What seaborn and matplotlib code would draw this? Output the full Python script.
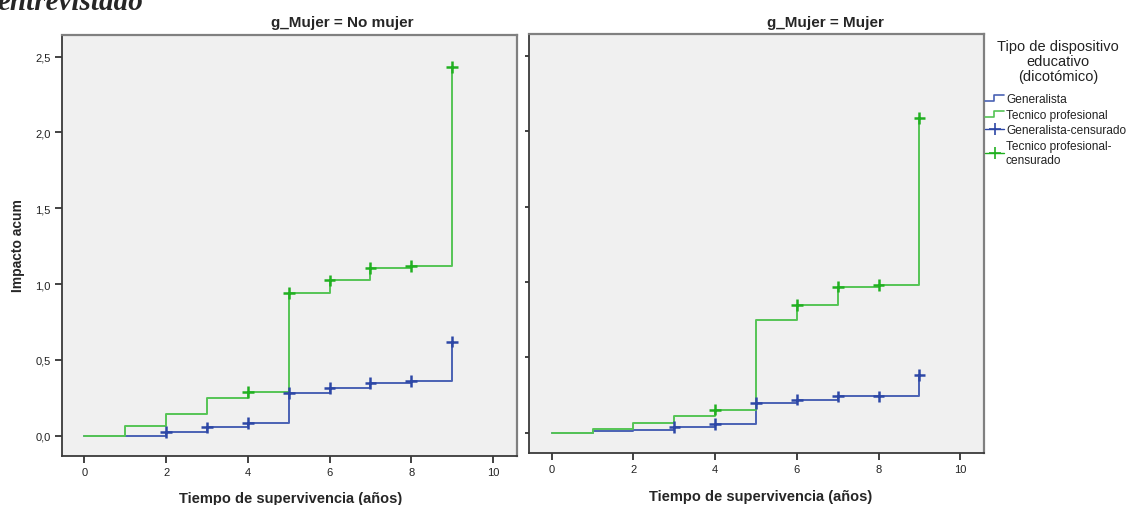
import numpy as np
import pandas as pd
import matplotlib
matplotlib.use("Agg")
import matplotlib.pyplot as plt
import seaborn as sns
from matplotlib.lines import Line2D
from matplotlib.legend_handler import HandlerBase

# ---------------- data ----------------
tiempos = [0, 1, 2, 3, 4, 5, 6, 7, 8, 9]
paneles = ["No mujer", "Mujer"]
grupos = ["Generalista", "Tecnico profesional"]

# cumulative hazard, g_Mujer = No mujer
nomujer_generalista = [0.0, 0.0, 0.024, 0.055, 0.085, 0.28, 0.314, 0.347, 0.36, 0.62]
nomujer_tecnico = [0.0, 0.061, 0.145, 0.248, 0.29, 0.94, 1.024, 1.105, 1.12, 2.43]
# cumulative hazard, g_Mujer = Mujer
mujer_generalista = [0.0, 0.009, 0.015, 0.037, 0.057, 0.196, 0.218, 0.24, 0.24, 0.381]
mujer_tecnico = [0.0, 0.02, 0.064, 0.11, 0.152, 0.747, 0.846, 0.969, 0.978, 2.086]

# censored times
cens_nomujer_generalista = [2, 3, 4, 5, 6, 7, 8, 9]
cens_nomujer_tecnico = [4, 5, 6, 7, 8, 9]
cens_mujer_generalista = [3, 4, 5, 6, 7, 8, 9]
cens_mujer_tecnico = [4, 6, 7, 8, 9]

x_ticks = [0, 2, 4, 6, 8, 10]
y_ticks = [0.0, 0.5, 1.0, 1.5, 2.0, 2.5]
y_ticklabels = ["0,0", "0,5", "1,0", "1,5", "2,0", "2,5"]

series = {
    ("No mujer", "Generalista"): (nomujer_generalista, cens_nomujer_generalista),
    ("No mujer", "Tecnico profesional"): (nomujer_tecnico, cens_nomujer_tecnico),
    ("Mujer", "Generalista"): (mujer_generalista, cens_mujer_generalista),
    ("Mujer", "Tecnico profesional"): (mujer_tecnico, cens_mujer_tecnico),
}

rows, crows = [], []
for (pan, grp), (vals, cens) in series.items():
    for t, v in zip(tiempos, vals):
        rows.append({"panel": pan, "grupo": grp, "t": t, "H": v})
    lookup = dict(zip(tiempos, vals))
    for t in cens:
        crows.append({"panel": pan, "grupo": grp, "t": t, "H": lookup[t]})
df = pd.DataFrame(rows)
cdf = pd.DataFrame(crows)

line_pal = {"Generalista": "#4a62b4", "Tecnico profesional": "#55c455"}
mark_pal = {"Generalista": "#2d47a6", "Tecnico profesional": "#21b021"}

# ---------------- figure ----------------
sns.set_style("white")
plt.rcParams["font.family"] = ["Liberation Sans", "DejaVu Sans"]

W, H = 1133, 506
fig = plt.figure(figsize=(W / 100, H / 100), dpi=100)

def fx(px):
    return px / W

def fy(py):
    return 1 - py / H

axL = fig.add_axes([fx(62), fy(457.3), fx(516.7) - fx(62), fy(36) - fy(457.3)])
axR = fig.add_axes([fx(529.3), fy(454), fx(984) - fx(529.3), fy(35.3) - fy(454)])

for ax, pan in zip([axL, axR], paneles):
    ax.set_facecolor("#f0f0f0")
    sub = df[df["panel"] == pan]
    sns.lineplot(data=sub, x="t", y="H", hue="grupo", palette=line_pal,
                 drawstyle="steps-post", estimator=None, lw=1.4,
                 legend=False, ax=ax)
    csub = cdf[cdf["panel"] == pan]
    sns.scatterplot(data=csub, x="t", y="H", hue="grupo", palette=mark_pal,
                    marker="+", s=70, linewidth=1.8, legend=False, ax=ax,
                    zorder=5)
    ax.set_xlim(-0.55, 10.58)
    ax.set_ylim(-0.136, 2.643)
    ax.set_xticks(x_ticks)
    ax.set_xticklabels([str(v) for v in x_ticks], fontsize=8)
    ax.set_yticks(y_ticks)
    ax.set_xlabel("")
    ax.set_ylabel("")
    for s in ["left", "bottom"]:
        ax.spines[s].set_color("#3a3a3a")
        ax.spines[s].set_linewidth(1.3)
    for s in ["top", "right"]:
        ax.spines[s].set_color("#808080")
        ax.spines[s].set_linewidth(1.6)
    ax.tick_params(axis="both", which="major", bottom=True, left=True,
                   direction="out", length=5, width=1.2,
                   color="#222222", pad=3, labelcolor="#222222")

axL.set_yticklabels(y_ticklabels, fontsize=8)
axR.set_yticklabels([])
axR.tick_params(axis="y", length=3)

# panel titles
fig.text(fx(342), fy(27), "g_Mujer = No mujer", ha="center", va="baseline",
         fontsize=11, fontweight="bold")
fig.text(fx(825), fy(27), "g_Mujer = Mujer", ha="center", va="baseline",
         fontsize=11, fontweight="bold")

# axis labels
fig.text(fx(18), fy(246), "Impacto acum", rotation=90, ha="center",
         va="center", fontsize=10, fontweight="bold")
fig.text(fx(291), fy(503), "Tiempo de supervivencia (años)", ha="center",
         va="baseline", fontsize=10.5, fontweight="bold")
fig.text(fx(761), fy(501), "Tiempo de supervivencia (años)", ha="center",
         va="baseline", fontsize=10.5, fontweight="bold")

# cut-off heading (top of the page is cropped in the reference)
fig.text(fx(-3), fy(10), "entrevistado", ha="left", va="baseline",
         fontsize=21, fontweight="bold", fontstyle="italic",
         family=["Liberation Serif", "DejaVu Serif"])

# legend title
fig.text(fx(1058), fy(62), "Tipo de dispositivo\neducativo\n(dicotómico)",
         ha="center", va="center", multialignment="center",
         fontsize=10.5, linespacing=1.1, color="#222222")

# legend
class StepHandler(HandlerBase):
    def create_artists(self, legend, orig_handle, xdescent, ydescent,
                       width, height, fontsize, trans):
        x0 = -xdescent
        x1 = x0 + width
        y0 = -ydescent + height * 0.1
        y1 = -ydescent + height * 0.8
        xm = x0 + width * 0.45
        ln = Line2D([x0, xm, xm, x1], [y0, y0, y1, y1],
                    color=orig_handle.get_color(), lw=1.2)
        ln.set_transform(trans)
        return [ln]

h_gen = Line2D([], [], color=line_pal["Generalista"])
h_tec = Line2D([], [], color=line_pal["Tecnico profesional"])
h_genc = Line2D([], [], color=mark_pal["Generalista"], lw=1.0,
                marker="+", markersize=9, markeredgewidth=1.2)
h_tecc = Line2D([], [], color=mark_pal["Tecnico profesional"], lw=1.0,
                marker="+", markersize=9, markeredgewidth=1.2)

leg = fig.legend([h_gen, h_tec, h_genc, h_tecc],
                 ["Generalista", "Tecnico profesional",
                  "Generalista-censurado", "Tecnico profesional-\ncensurado"],
                 handler_map={h_gen: StepHandler(), h_tec: StepHandler()},
                 loc="upper left", bbox_to_anchor=(fx(985), fy(94)),
                 frameon=False, fontsize=8.6,
                 handlelength=1.6, handletextpad=0.15, borderpad=0,
                 borderaxespad=0, labelspacing=0.3)
for t in leg.get_texts():
    t.set_color("#222222")

fig.savefig("out.png", dpi=100)
